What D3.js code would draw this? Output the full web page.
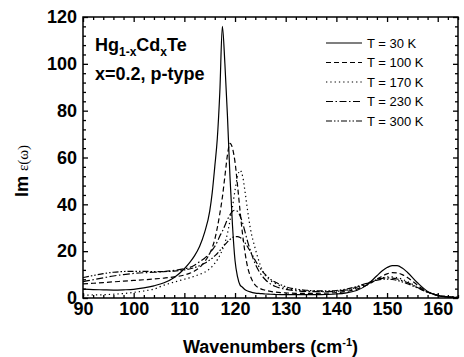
<!DOCTYPE html>
<html>
<head>
<meta charset="utf-8">
<script src="https://cdn.jsdelivr.net/npm/d3@7"></script>
<style>
  body { margin: 0; background: #fff; }
  svg { display: block; font-family: "Liberation Sans", Arial, sans-serif; }
</style>
</head>
<body>
<svg id="chart" width="464" height="357"></svg>
<script>
// wavenumber grid (cm^-1), denser around the main peak
const wavenumbers = [90, 92, 94, 96, 98, 100, 102, 104, 106, 108, 110, 111, 112, 113, 114, 115,
    115.5, 116, 116.5, 117, 117.5, 118, 118.5, 119, 119.5, 120, 120.5, 121, 121.5, 122, 122.5, 123,
    124, 125, 126, 127, 128, 130, 132, 134, 136, 138, 140, 142, 144,
    146, 148, 149, 150, 151, 152, 153, 154, 156, 158, 160, 162, 164];

const eps30K = [3.8, 3.6, 3.5, 3.4, 3.5, 3.7, 4.3, 5.2, 6.5, 8.8, 12.5, 15, 18, 22, 28, 37,
    45, 56, 68, 88, 116, 100, 78, 52, 31, 16, 9, 5.5, 4.5, 3.5, 3, 2.6,
    2.1, 1.9, 1.7, 1.6, 1.5, 1.4, 1.4, 1.4, 1.4, 1.5, 1.7, 2.2, 3.2,
    5.5, 9.5, 11.5, 13, 13.8, 13.8, 12.8, 11, 6.5, 2.8, 1, 0.4, 0.2];

const eps100K = [6.0, 6.3, 6.6, 6.9, 7.2, 7.5, 7.8, 8.1, 8.5, 9.0, 9.8, 10.5, 11.5, 13, 15.5, 19,
    21.5, 25, 30, 36, 43, 52, 61, 66, 64, 58, 48, 37, 27, 19, 13, 9.5,
    5.5, 4, 3.3, 2.8, 2.5, 2.2, 2, 2, 2, 2.1, 2.3, 2.8, 3.8,
    5.5, 8, 9.3, 10.3, 10.8, 10.7, 10, 8.8, 5.5, 2.6, 1.1, 0.5, 0.3];

const eps170K = [1.2, 1.3, 1.4, 1.6, 1.9, 2.4, 3.0, 3.8, 5.5, 6.8, 8.0, 8.6, 9.3, 10.1, 11, 12.5,
    13.5, 14.8, 16.3, 18.2, 20.5, 23.5, 27.5, 33, 39, 46, 52, 54.5, 52, 45, 37, 30,
    21, 14, 9.5, 7.5, 6.2, 4.2, 3.4, 3.1, 2.9, 2.8, 2.9, 3.3, 4.3,
    5.9, 7.8, 8.6, 9.0, 9.0, 8.7, 8.0, 7.0, 4.7, 2.6, 1.2, 0.5, 0.3];

const eps230K = [7.0, 7.8, 8.6, 9.4, 10.0, 10.5, 10.8, 11.0, 11.3, 11.8, 12.5, 13, 14, 15.5, 17, 19,
    20.5, 22, 24, 26.5, 28.5, 31, 33.5, 35.5, 37, 37.5, 37, 35, 32, 28, 24, 20.5,
    14.5, 10.5, 7.8, 6.0, 4.9, 3.7, 3.1, 2.8, 2.7, 2.7, 2.9, 3.5, 4.6,
    6.2, 7.8, 8.4, 8.6, 8.5, 8.1, 7.4, 6.6, 4.5, 2.5, 1.2, 0.5, 0.3];

const eps300K = [8.7, 9.6, 10.4, 11.0, 11.3, 11.4, 11.4, 11.3, 11.3, 11.5, 12.0, 12.4, 13.0, 13.8, 14.8, 16.2,
    17, 18, 19, 20.2, 21.5, 22.8, 24, 25, 25.8, 26.2, 26.2, 25.8, 25, 23.5, 21.8, 20,
    16, 12.5, 10, 8, 6.7, 4.8, 3.8, 3.3, 3.1, 3.0, 3.2, 3.8, 4.9,
    6.3, 7.6, 8.0, 8.1, 7.9, 7.5, 6.9, 6.1, 4.3, 2.5, 1.2, 0.5, 0.3];

const seriesLabels = ["T = 30 K", "T = 100 K", "T = 170 K", "T = 230 K", "T = 300 K"];
const xMajorTicks = [90, 100, 110, 120, 130, 140, 150, 160];
const yMajorTicks = [0, 20, 40, 60, 80, 100, 120];

const series = [eps30K, eps100K, eps170K, eps230K, eps300K].map((vals, i) => ({
    label: seriesLabels[i],
    points: wavenumbers.map((w, j) => [w, vals[j]])
}));
const dashes = [null, "5,3", "1.3,3", "7,2.5,1.5,2.5", "6,2,1.5,2,1.5,2"];

const svg = d3.select("#chart");
const margin = { top: 17, right: 6, bottom: 59, left: 83 };
const width = 464, height = 357;
const innerW = width - margin.left - margin.right;
const innerH = height - margin.top - margin.bottom;

const x = d3.scaleLinear().domain([90, 164]).range([0, innerW]);
const y = d3.scaleLinear().domain([0, 120]).range([innerH, 0]);

const g = svg.append("g").attr("transform", `translate(${margin.left},${margin.top})`);

// curves
const clip = svg.append("clipPath").attr("id", "plotclip");
clip.append("rect").attr("width", innerW).attr("height", innerH);

const line = d3.line().x(d => x(d[0])).y(d => y(d[1])).curve(d3.curveMonotoneX);
g.append("g").attr("clip-path", "url(#plotclip)")
    .selectAll("path")
    .data(series)
    .join("path")
    .attr("d", d => line(d.points))
    .attr("fill", "none")
    .attr("stroke", "#000")
    .attr("stroke-width", 1.2)
    .attr("stroke-dasharray", (d, i) => dashes[i]);

// axes, ticks inward on all four sides
const xMinor = d3.range(90, 165, 2).filter(v => v % 10 !== 0);
const yMinor = d3.range(0, 121, 4).filter(v => v % 20 !== 0);

function styleAxis(sel) {
    sel.select(".domain").remove();
    sel.selectAll("line").attr("stroke", "#000").attr("stroke-width", 1.3);
    sel.selectAll("text")
        .attr("fill", "#000")
        .style("font-size", "18px")
        .style("font-weight", "bold")
        .style("font-family", "'Liberation Sans', Arial, sans-serif");
}

g.append("g").attr("transform", `translate(0,${innerH})`)
    .call(d3.axisBottom(x).tickValues(xMajorTicks).tickSize(-5).tickPadding(4).tickFormat(d3.format("d")))
    .call(styleAxis);
g.append("g").attr("transform", `translate(0,${innerH})`)
    .call(d3.axisBottom(x).tickValues(xMinor).tickSize(-3).tickFormat(""))
    .call(styleAxis);
g.append("g")
    .call(d3.axisTop(x).tickValues(xMajorTicks).tickSize(-5).tickFormat(""))
    .call(styleAxis);
g.append("g")
    .call(d3.axisTop(x).tickValues(xMinor).tickSize(-3).tickFormat(""))
    .call(styleAxis);

g.append("g")
    .call(d3.axisLeft(y).tickValues(yMajorTicks).tickSize(-5).tickPadding(6).tickFormat(d3.format("d")))
    .call(styleAxis);
g.append("g")
    .call(d3.axisLeft(y).tickValues(yMinor).tickSize(-3).tickFormat(""))
    .call(styleAxis);
g.append("g").attr("transform", `translate(${innerW},0)`)
    .call(d3.axisRight(y).tickValues(yMajorTicks).tickSize(-5).tickFormat(""))
    .call(styleAxis);
g.append("g").attr("transform", `translate(${innerW},0)`)
    .call(d3.axisRight(y).tickValues(yMinor).tickSize(-3).tickFormat(""))
    .call(styleAxis);

g.append("rect")
    .attr("width", innerW).attr("height", innerH)
    .attr("fill", "none").attr("stroke", "#000").attr("stroke-width", 1.5);

// axis titles
const xt = svg.append("text")
    .attr("x", margin.left + innerW / 2)
    .attr("y", 353)
    .attr("text-anchor", "middle")
    .style("font-size", "18px")
    .style("font-weight", "bold");
xt.append("tspan").text("Wavenumbers (cm");
xt.append("tspan").attr("dy", -7).style("font-size", "11px").text("-1");
xt.append("tspan").attr("dy", 7).text(")");

const yt = svg.append("text")
    .attr("transform", "translate(28,171) rotate(-90)")
    .attr("text-anchor", "middle");
yt.append("tspan").style("font-size", "18px").style("font-weight", "bold").text("Im ");
yt.append("tspan").style("font-size", "15px").style("font-family", "'Liberation Serif', serif").text("ε(ω)");

// sample annotation
const a1 = g.append("text").attr("x", 12).attr("y", 34)
    .style("font-size", "18px").style("font-weight", "bold");
a1.append("tspan").text("Hg");
a1.append("tspan").attr("dy", 5).style("font-size", "12px").text("1-x");
a1.append("tspan").attr("dy", -5).text("Cd");
a1.append("tspan").attr("dy", 5).style("font-size", "12px").text("x");
a1.append("tspan").attr("dy", -5).text("Te");
g.append("text").attr("x", 12).attr("y", 63)
    .style("font-size", "18px").style("font-weight", "bold")
    .text("x=0.2, p-type");

// legend
const legend = g.append("g").attr("transform", `translate(${326 - margin.left},${43 - margin.top})`);
series.forEach((s, i) => {
    const row = legend.append("g").attr("transform", `translate(0,${i * 19.5})`);
    row.append("line")
        .attr("x1", 0).attr("x2", 36).attr("y1", 0).attr("y2", 0)
        .attr("stroke", "#000").attr("stroke-width", 1.2)
        .attr("stroke-dasharray", dashes[i]);
    row.append("text")
        .attr("x", 41).attr("y", 4.5)
        .style("font-size", "13px")
        .text(s.label);
});
</script>
</body>
</html>
